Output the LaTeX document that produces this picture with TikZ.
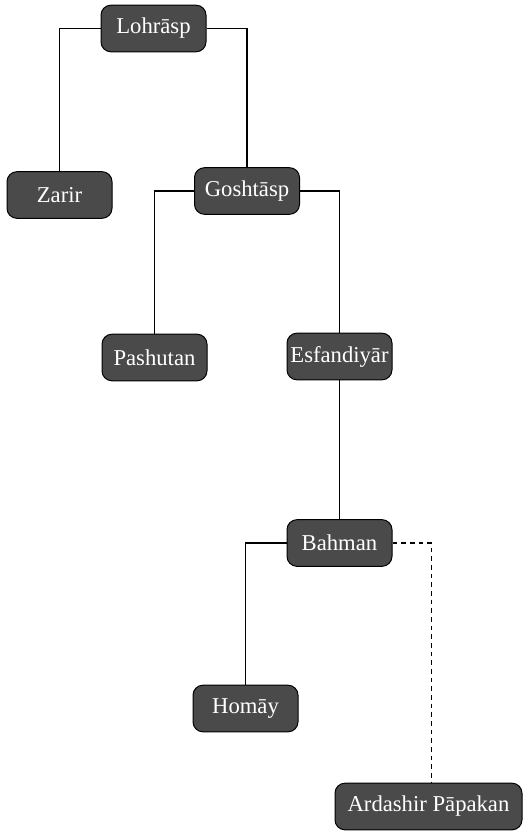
\documentclass[tikz,border=0pt]{standalone}
\usepackage{fontspec}
\setmainfont{Liberation Serif}
\begin{document}
\begin{tikzpicture}[x=0.75pt,y=-0.75pt,
  person/.style={draw=black,line width=0.75pt,fill=black!71,rounded corners=7.5pt,
    minimum width=78.75pt,minimum height=35pt,text=white,inner sep=2pt,
    font=\fontsize{17}{20}\selectfont},
  link/.style={draw=black,line width=0.8pt}]
\useasboundingbox (0,0) rectangle (526,833);
\node[person] (lohrasp) at (153.5,28.5) {Lohrāsp};
\node[person] (zarir) at (59.5,195) {Zarir};
\node[person] (goshtasp) at (247,191) {Goshtāsp};
\node[person] (pashutan) at (154.5,357.5) {Pashutan};
\node[person] (esfandiyar) at (339.5,356.5) {Esfandiyār};
\node[person] (bahman) at (339.5,543) {Bahman};
\node[person] (homay) at (245.5,708.5) {Homāy};
\node[person,minimum width=140.25pt] (ardashir) at (428.5,806.5) {Ardashir Pāpakan};
\coordinate (drop) at ([xshift=2pt]ardashir.north);
\draw[link] (lohrasp.west) -| (zarir.north);
\draw[link] (lohrasp.east) -| (goshtasp.north);
\draw[link] (goshtasp.west) -| (pashutan.north);
\draw[link] (goshtasp.east) -| (esfandiyar.north);
\draw[link] (esfandiyar.south) -- (bahman.north);
\draw[link] (bahman.west) -| (homay.north);
\draw[link,dash pattern=on 3.5pt off 3pt] (bahman.east) -| (drop);
\end{tikzpicture}
\end{document}
